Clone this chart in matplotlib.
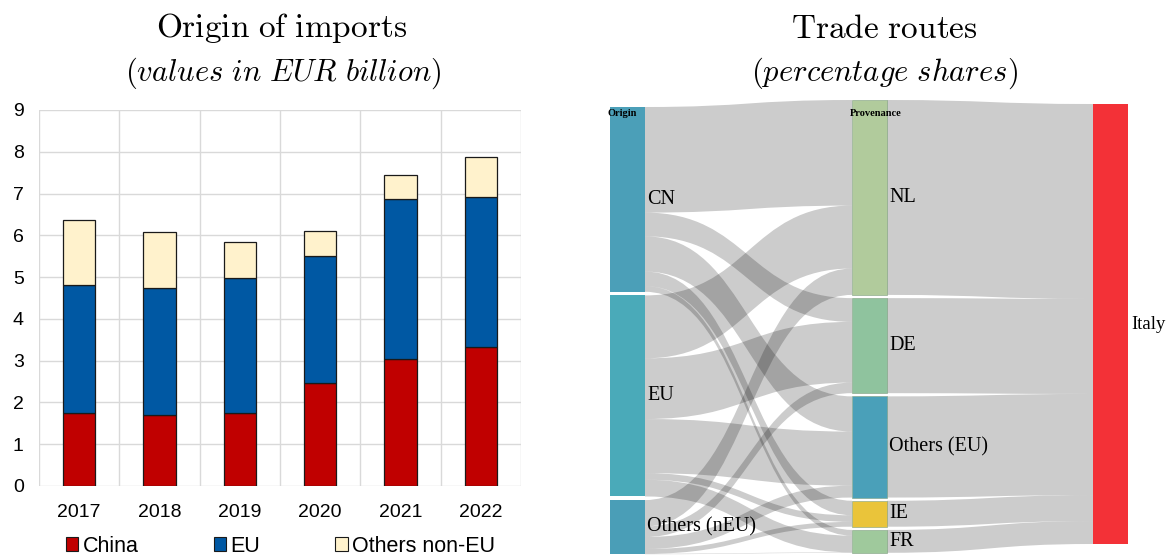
import matplotlib
matplotlib.use("Agg")
import matplotlib.pyplot as plt
from matplotlib.patches import PathPatch, Rectangle, Patch
from matplotlib.path import Path
import numpy as np

# ---- data: origin of imports (EUR billion) ----
years = ["2017", "2018", "2019", "2020", "2021", "2022"]
china = [1.74, 1.70, 1.74, 2.46, 3.03, 3.32]
eu = [3.07, 3.03, 3.23, 3.05, 3.85, 3.60]
others_non_eu = [1.55, 1.36, 0.88, 0.60, 0.57, 0.96]
y_ticks = [0, 1, 2, 3, 4, 5, 6, 7, 8, 9]

# ---- data: trade routes (percentage shares) ----
origins = ["CN", "EU", "Others (nEU)"]
provenances = ["NL", "DE", "Others (EU)", "IE", "FR"]
destination = "Italy"
flow_cn = [24.0, 5.4, 8.0, 3.3, 1.3]
flow_eu = [14.3, 13.8, 12.3, 1.5, 3.8]
flow_neu = [6.0, 2.4, 2.7, 1.1, 0.1]

plt.rcParams["mathtext.fontset"] = "cm"

W, H = 1167, 556
fig = plt.figure(figsize=(W / 100, H / 100), dpi=100)

# ================= left panel: stacked bars =================
ax = fig.add_axes([39 / W, 1 - 486 / H, (521 - 39) / W, (486 - 110) / H])
x = np.arange(len(years))
bw = 0.4
c_china, c_eu, c_oth = "#C00000", "#0058A3", "#FFF2CC"
bottom2 = np.array(china)
bottom3 = bottom2 + np.array(eu)
ax.bar(x, china, bw, color=c_china, edgecolor="#1a1a1a", linewidth=0.9, zorder=3)
ax.bar(x, eu, bw, bottom=bottom2, color=c_eu, edgecolor="#1a1a1a", linewidth=0.9, zorder=3)
ax.bar(x, others_non_eu, bw, bottom=bottom3, color=c_oth, edgecolor="#1a1a1a", linewidth=0.9, zorder=3)
ax.set_xlim(-0.5, len(years) - 0.5)
ax.set_ylim(0, 9)
ax.set_yticks(y_ticks)
ax.set_xticks(x)
ax.set_xticklabels(years)
ax.set_xticks(np.arange(-0.5, len(years)), minor=True)
ax.grid(axis="y", color="#D9D9D9", linewidth=1.0, zorder=0)
ax.grid(axis="x", which="minor", color="#D9D9D9", linewidth=1.0, zorder=0)
ax.grid(axis="x", which="major", visible=False)
for s in ax.spines.values():
    s.set_visible(False)
ax.tick_params(axis="both", which="both", length=0, labelsize=14,
               labelfontfamily="Liberation Sans")
ax.tick_params(axis="y", pad=11)
ax.tick_params(axis="x", pad=13)

handles = [Patch(facecolor=c, edgecolor="#1a1a1a", linewidth=0.8) for c in (c_china, c_eu, c_oth)]
fig.legend(handles, ["China", "EU", "Others non-EU"], loc="center left",
           bbox_to_anchor=(66 / W, 1 - 546 / H), ncol=3, frameon=False,
           prop={"family": "Liberation Sans", "size": 15.5},
           handlelength=0.57, handleheight=0.57, handletextpad=0.2,
           columnspacing=3.5, borderpad=0, borderaxespad=0)

fig.text(282 / W, 1 - 28 / H, r"$\mathrm{Origin\ of\ imports}$", ha="center", va="center", fontsize=24)
fig.text(283 / W, 1 - 73 / H, r"$(\mathit{values\ in\ EUR\ billion})$", ha="center", va="center", fontsize=22)

# ================= right panel: sankey =================
fig.text(884 / W, 1 - 28 / H, r"$\mathrm{Trade\ routes}$", ha="center", va="center", fontsize=24)
fig.text(885 / W, 1 - 73 / H, r"$(\mathit{percentage\ shares})$", ha="center", va="center", fontsize=22)

sx = fig.add_axes([0, 0, 1, 1])
sx.set_xlim(0, W)
sx.set_ylim(H, 0)
sx.axis("off")
sx.patch.set_alpha(0)

flows = np.array([flow_cn, flow_eu, flow_neu])
scale = 4.4          # pixels per percentage point
node_w = 35
col_x = [610, 852, 1093]
col_top = [107, 100, 104]
col_gap = [3.6, 3.2, 0.0]
serif = "Liberation Serif"
lab_size = 14.5

orig_col = ["#4B9FB8", "#4AAAB9", "#4A9EB7"]
prov_col = ["#B1CB9C", "#8FC39E", "#4AA0B9", "#EAC43A", "#9FC99C"]
dest_col = "#F33137"


def stack(values, top, gap):
    tops, y = [], top
    for v in values:
        tops.append(y)
        y += v * scale + gap
    return tops


orig_tot = flows.sum(axis=1)
prov_tot = flows.sum(axis=0)
orig_tops = stack(orig_tot, col_top[0], col_gap[0])
prov_tops = stack(prov_tot, col_top[1], col_gap[1])
dest_top = col_top[2]


def band(x0, a0, b0, x1, a1, b1):
    xm = (x0 + x1) / 2
    verts = [(x0, a0), (xm, a0), (xm, a1), (x1, a1),
             (x1, b1), (xm, b1), (xm, b0), (x0, b0), (x0, a0)]
    codes = [Path.MOVETO, Path.CURVE4, Path.CURVE4, Path.CURVE4,
             Path.LINETO, Path.CURVE4, Path.CURVE4, Path.CURVE4, Path.CLOSEPOLY]
    sx.add_patch(PathPatch(Path(verts, codes), facecolor=(0, 0, 0, 0.2),
                           edgecolor="none", zorder=1))


# origin -> provenance links: leave each origin in provenance order,
# arrive at each provenance in origin order
out_off = list(orig_tops)
in_off = list(prov_tops)
for i in range(len(origins)):
    for j in range(len(provenances)):
        h = flows[i, j] * scale
        band(col_x[0] + node_w, out_off[i], out_off[i] + h,
             col_x[1], in_off[j], in_off[j] + h)
        out_off[i] += h
        in_off[j] += h

# provenance -> destination links
d = dest_top
for j in range(len(provenances)):
    h = prov_tot[j] * scale
    band(col_x[1] + node_w, prov_tops[j], prov_tops[j] + h,
         col_x[2], d, d + h)
    d += h

# nodes
for i, name in enumerate(origins):
    h = orig_tot[i] * scale
    sx.add_patch(Rectangle((col_x[0], orig_tops[i]), node_w, h, facecolor=orig_col[i],
                           edgecolor="none", zorder=2))
    sx.text(col_x[0] + node_w + 2, orig_tops[i] + h / 2, name, ha="left", va="center",
            family=serif, fontsize=lab_size, zorder=4)
for j, name in enumerate(provenances):
    h = prov_tot[j] * scale
    sx.add_patch(Rectangle((col_x[1], prov_tops[j]), node_w, h, facecolor=prov_col[j],
                           edgecolor="#7f9f80", linewidth=0.4, zorder=2))
    sx.text(col_x[1] + node_w + 2, prov_tops[j] + h / 2, name, ha="left", va="center",
            family=serif, fontsize=lab_size, zorder=4)
dh = prov_tot.sum() * scale
sx.add_patch(Rectangle((col_x[2], dest_top), node_w, dh, facecolor=dest_col,
                       edgecolor="none", zorder=2))
sx.text(col_x[2] + node_w + 3, dest_top + dh / 2, destination, ha="left", va="center",
        family=serif, fontsize=13.5, zorder=4)

sx.text(col_x[0] + node_w / 2 - 5, 114, "Origin", ha="center", va="center",
        family=serif, fontweight="bold", fontsize=7.5, zorder=4)
sx.text(col_x[1] + node_w / 2 + 6, 114, "Provenance", ha="center", va="center",
        family=serif, fontweight="bold", fontsize=7.5, zorder=4)

fig.savefig("out.png", dpi=100)
